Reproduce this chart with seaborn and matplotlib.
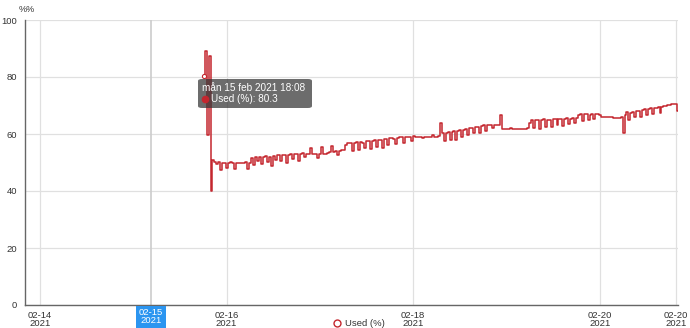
import numpy as np
import pandas as pd
import matplotlib
matplotlib.use("Agg")
import matplotlib.pyplot as plt
import matplotlib.dates as mdates
from matplotlib.patches import FancyBboxPatch
import seaborn as sns

# ---------------- data ----------------
start_time = "2021-02-15 18:08"
interval = "30min"
used_pct = [
    80.3, 89.0, 59.5, 87.5, 40.0, 50.8, 50.1, 49.6, 50.2, 47.4,
    49.9, 50.0, 48.0, 49.8, 50.1, 49.9, 47.6, 50.0, 49.8, 49.9,
    50.0, 49.9, 50.1, 47.7, 50.0, 51.6, 49.0, 51.8, 50.5, 52.0,
    49.3, 51.9, 52.2, 50.2, 52.1, 48.8, 52.3, 51.0, 52.5, 52.6,
    50.4, 52.7, 52.5, 49.8, 52.8, 53.0, 51.2, 52.9, 53.1, 50.6,
    53.0, 53.2, 52.1, 53.1, 53.0, 55.0, 53.0, 52.9, 53.0, 51.5,
    53.1, 55.6, 53.0, 53.1, 53.2, 53.6, 55.8, 53.8, 54.0, 52.5,
    54.2, 54.4, 54.3, 56.3, 56.8, 56.9, 57.0, 54.0, 56.8, 57.1,
    54.5, 57.2, 57.0, 55.0, 57.4, 57.6, 54.8, 57.5, 57.8, 55.6,
    58.0, 57.9, 55.2, 58.4, 58.3, 56.0, 58.5, 58.6, 58.4, 56.4,
    58.7, 58.9, 58.8, 57.0, 58.9, 59.0, 59.1, 57.6, 59.2, 59.1,
    59.1, 59.1, 59.1, 58.6, 59.1, 59.1, 59.1, 59.1, 59.6, 59.1,
    59.1, 59.2, 63.8, 60.2, 57.5, 60.5, 60.6, 58.0, 60.8, 61.0,
    57.8, 61.2, 61.3, 59.0, 61.5, 61.8, 59.5, 62.0, 62.2, 60.5,
    62.4, 62.6, 60.4, 62.8, 63.0, 61.2, 63.1, 63.2, 63.0, 62.0,
    63.2, 63.3, 63.0, 66.7, 61.7, 61.6, 61.6, 61.6, 62.0, 61.6,
    61.6, 61.6, 61.6, 61.7, 61.6, 61.6, 61.6, 62.2, 64.0, 64.9,
    62.0, 64.8, 65.0, 61.8, 64.9, 65.1, 62.5, 65.0, 64.8, 62.4,
    65.2, 65.3, 63.0, 65.2, 65.4, 62.8, 65.3, 65.5, 63.5, 65.4,
    65.6, 63.8, 65.5, 66.8, 67.0, 64.6, 66.9, 67.0, 65.0, 66.8,
    67.1, 65.2, 66.9, 67.0, 66.5, 66.1, 66.0, 66.0, 65.9, 65.8,
    65.8, 65.7, 65.6, 65.5, 65.6, 66.0, 60.2, 66.6, 67.8, 65.0,
    67.2, 67.6, 65.8, 68.0, 68.2, 66.0, 68.4, 68.6, 66.8, 68.8,
    69.0, 67.0, 69.1, 69.2, 69.4, 67.5, 69.6, 69.8, 70.0, 70.2,
    70.3, 70.4, 70.6, 70.5, 68.0,
]
tick_dates = ["2021-02-14", "2021-02-16", "2021-02-18", "2021-02-20"]
tick_labels = ["02-14\n2021", "02-16\n2021", "02-18\n2021", "02-20\n2021"]
end_label = "02-20\n2021"
pointer_date = "2021-02-15 04:30"
pointer_label = "02-15\n2021"
y_ticks = [0, 20, 40, 60, 80, 100]
x_min = "2021-02-13 20:10"
x_max = "2021-02-20 20:08"
series_name = "Used (%)"
tooltip_title = "mån 15 feb 2021 18:08"
tooltip_value = "Used (%): 80.3"

times = pd.date_range(start_time, periods=len(used_pct), freq=interval)
df = pd.DataFrame({"time": times, "used": used_pct})

# ---------------- figure ----------------
sns.set_theme(style="white")
plt.rcParams["font.family"] = ["Liberation Sans", "DejaVu Sans"]
W, H = 690, 328
fig = plt.figure(figsize=(W / 100, H / 100), dpi=100)
L, R, T, B = 25, 678, 20, 305
ax = fig.add_axes([L / W, (H - B) / H, (R - L) / W, (B - T) / H])

RED = "#c4262e"
sns.lineplot(data=df, x="time", y="used", ax=ax, color=RED, linewidth=1.1,
             estimator=None, legend=False, drawstyle="steps-mid")
# hovered point marker
ax.plot(mdates.date2num(times[0]), used_pct[0], marker="o", ms=3.0,
        mfc="white", mec=RED, mew=0.8, zorder=5)

xmin = mdates.date2num(pd.Timestamp(x_min))
xmax = mdates.date2num(pd.Timestamp(x_max))
ax.set_xlim(xmin, xmax)
ax.set_ylim(0, 100)

tick_pos = [mdates.date2num(pd.Timestamp(d)) for d in tick_dates] + [xmax - 0.02]
ax.set_xticks(tick_pos)
ax.set_xticklabels(tick_labels + [end_label])
ax.set_yticks(y_ticks)
ax.set_yticklabels([str(v) for v in y_ticks])

ax.grid(True, color="#e0e0e0", linewidth=0.9)
ax.set_axisbelow(True)
for side in ["top", "right"]:
    ax.spines[side].set_visible(False)
for side in ["left", "bottom"]:
    ax.spines[side].set_color("#666666")
    ax.spines[side].set_linewidth(1.0)
ax.tick_params(axis="both", which="both", length=3.5, width=0.9,
               color="#666666", labelcolor="#333333", labelsize=6.8, pad=2)
ax.tick_params(axis="x", pad=1)
for lbl in ax.get_xticklabels():
    lbl.set_linespacing(0.85)
ax.set_xlabel("")
ax.set_ylabel("")

# axis pointer
px = mdates.date2num(pd.Timestamp(pointer_date))
ax.axvline(px, color="#cccccc", linewidth=1.2, zorder=1)
ax.text(px, -0.012, pointer_label, transform=ax.get_xaxis_transform(),
        ha="center", va="top", fontsize=6.8, color="white", linespacing=0.85,
        bbox=dict(boxstyle="square,pad=0.3", fc="#2b95f0", ec="none"),
        zorder=10, clip_on=False)

# y axis name
fig.text(19 / W, 1 - 9 / H, "%%", fontsize=6.5, color="#333333",
         ha="left", va="center")

# tooltip
bx0, by0, bx1, by1 = 198, 79, 312, 108
box = FancyBboxPatch((bx0 / W, 1 - by1 / H), (bx1 - bx0) / W, (by1 - by0) / H,
                     boxstyle="round,pad=0,rounding_size=0.006",
                     transform=fig.transFigure, fc=(0.2, 0.2, 0.2, 0.72),
                     ec="none", zorder=20)
fig.add_artist(box)
fig.text(202 / W, 1 - 88 / H, tooltip_title, fontsize=7.2, color="white",
         ha="left", va="center", zorder=21)
fig.add_artist(plt.Line2D([205 / W], [1 - 99 / H], marker="o", ms=4.5,
                          color=RED, transform=fig.transFigure, zorder=21))
fig.text(211 / W, 1 - 99 / H, tooltip_value, fontsize=7.2, color="white",
         ha="left", va="center", zorder=21)

# legend (near the bottom edge)
fig.add_artist(plt.Line2D([337 / W], [1 - 323 / H], marker="o", ms=5,
                          mfc="white", mec=RED, mew=1, color=RED,
                          transform=fig.transFigure))
fig.text(345 / W, 1 - 323 / H, series_name, fontsize=6.8, color="#333333",
         ha="left", va="center")

fig.savefig("out.png", dpi=100)
